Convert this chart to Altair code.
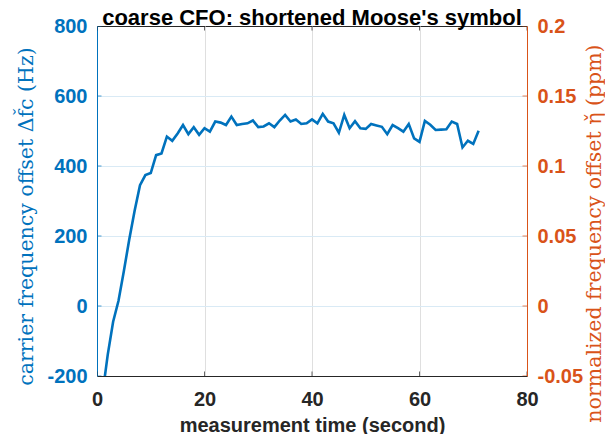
import altair as alt
import pandas as pd

# ---- data ----
seconds = list(range(1, 72))
cfo_hz = [
    -254, -139, -45, 15, 100, 190, 272, 345, 374, 380,
    431, 436, 484, 472, 493, 517, 491, 511, 489, 508,
    498, 527, 524, 517, 541, 517, 520, 522, 530, 511,
    513, 522, 511, 530, 546, 527, 533, 520, 522, 533,
    522, 549, 527, 522, 495, 546, 508, 528, 508, 506,
    520, 516, 512, 491, 517, 508, 498, 520, 479, 469,
    529, 518, 503, 504, 505, 527, 520, 453, 472, 463,
    501,
]
x_ticks = [0, 20, 40, 60, 80]
hz_ticks = [-200, 0, 200, 400, 600, 800]
ppm_ticks = [-0.05, 0, 0.05, 0.1, 0.15, 0.2]

BLUE = "#0072BD"
ORANGE = "#D95319"
DARK = "#262626"

line_df = pd.DataFrame({"t": seconds, "hz": cfo_hz})
lt_df = pd.DataFrame({"t": [x_ticks[0]] * len(hz_ticks), "hz": hz_ticks})
bt_df = pd.DataFrame({"t": x_ticks, "hz": [hz_ticks[0]] * len(x_ticks)})
tt_df = pd.DataFrame({"t": x_ticks, "hz": [hz_ticks[-1]] * len(x_ticks)})
rt_df = pd.DataFrame({"t": [x_ticks[-1]] * len(ppm_ticks), "ppm": ppm_ticks})

xs = alt.Scale(domain=[x_ticks[0], x_ticks[-1]], nice=False, zero=False)
ys_hz = alt.Scale(domain=[hz_ticks[0], hz_ticks[-1]], nice=False, zero=False)
ys_ppm = alt.Scale(domain=[ppm_ticks[0], ppm_ticks[-1]], nice=False, zero=False)

x_axis = alt.Axis(
    values=x_ticks, labelExpr="toString(datum.value)", labelFlush=False,
    labelFont="Liberation Sans", labelFontSize=20, labelFontWeight="bold",
    labelColor=DARK, labelPadding=13, ticks=False, tickSize=0,
    domainColor=DARK, domainWidth=1,
    grid=True, gridColor="#dfdfdf", gridWidth=1,
    titleFont="Liberation Sans", titleFontSize=20, titleFontWeight="bold",
    titleColor=DARK, titlePadding=6,
)
y_axis_left = alt.Axis(
    values=hz_ticks, labelExpr="toString(datum.value)", labelFlush=False,
    labelFont="Liberation Sans", labelFontSize=20, labelFontWeight="bold",
    labelColor=BLUE, labelPadding=10, ticks=False, tickSize=0,
    domainColor=BLUE, domainWidth=1,
    grid=True,
    gridColor={"condition": {"test": "datum.value == 800", "value": "rgba(0,0,0,0)"},
               "value": "#d9eaf5"},
    gridWidth=1,
    titleFont="DejaVu Serif", titleFontSize=20.5, titleFontWeight="normal",
    titleColor=BLUE, titleAngle=270, titleAlign="center", titleBaseline="middle",
    titleX=-71, titleY=190,
)
y_axis_right = alt.Axis(
    orient="right", values=ppm_ticks, labelExpr="toString(datum.value)",
    labelFlush=False,
    labelFont="Liberation Sans", labelFontSize=20, labelFontWeight="bold",
    labelColor=ORANGE, labelPadding=10, ticks=False, tickSize=0,
    domainColor=ORANGE, domainWidth=1, grid=False,
    titleFont="DejaVu Serif", titleFontSize=20.5, titleFontWeight="normal",
    titleColor=ORANGE, titleAngle=270, titleAlign="center", titleBaseline="middle",
    titleX=67, titleY=207,
)

X = alt.X("t:Q", scale=xs, axis=x_axis, title="measurement time (second)")
Y_hz = alt.Y("hz:Q", scale=ys_hz, axis=y_axis_left,
             title="carrier frequency offset  Δf̌c (Hz)")
Y_ppm = alt.Y("ppm:Q", scale=ys_ppm, axis=y_axis_right,
              title="normalized frequency offset  η̌ (ppm)")

line = alt.Chart(line_df).mark_line(color=BLUE, strokeWidth=2.6, clip=True).encode(x=X, y=Y_hz)
left_ticks = alt.Chart(lt_df).mark_tick(orient="horizontal", size=9, thickness=1,
                                        color=BLUE, clip=True).encode(x=X, y=Y_hz)
bottom_ticks = alt.Chart(bt_df).mark_tick(orient="vertical", size=9, thickness=1,
                                          color=DARK, clip=True).encode(x=X, y=Y_hz)
top_ticks = alt.Chart(tt_df).mark_tick(orient="vertical", size=9, thickness=1,
                                       color=DARK, clip=True).encode(x=X, y=Y_hz)
right_ticks = alt.Chart(rt_df).mark_tick(orient="horizontal", size=9, thickness=1,
                                         color=ORANGE, clip=True).encode(x=X, y=Y_ppm)

left_group = alt.layer(line, left_ticks, bottom_ticks, top_ticks)

chart = alt.layer(left_group, right_ticks).resolve_scale(y="independent").properties(
    width=430, height=350,
    autosize=alt.AutoSizeParams(type="none"),
    padding={"left": 89, "top": 18, "right": 78, "bottom": 58},
    background="white",
    title=alt.Title(text="coarse CFO: shortened Moose's symbol",
                    font="Liberation Sans", fontSize=22, fontWeight="bold",
                    color="#000000", anchor="middle", frame="group",
                    baseline="alphabetic", offset=4, dy=35),
).configure_view(stroke=DARK, strokeWidth=1)

chart.save("out.html", embed_options={"renderer": "svg", "actions": False})
